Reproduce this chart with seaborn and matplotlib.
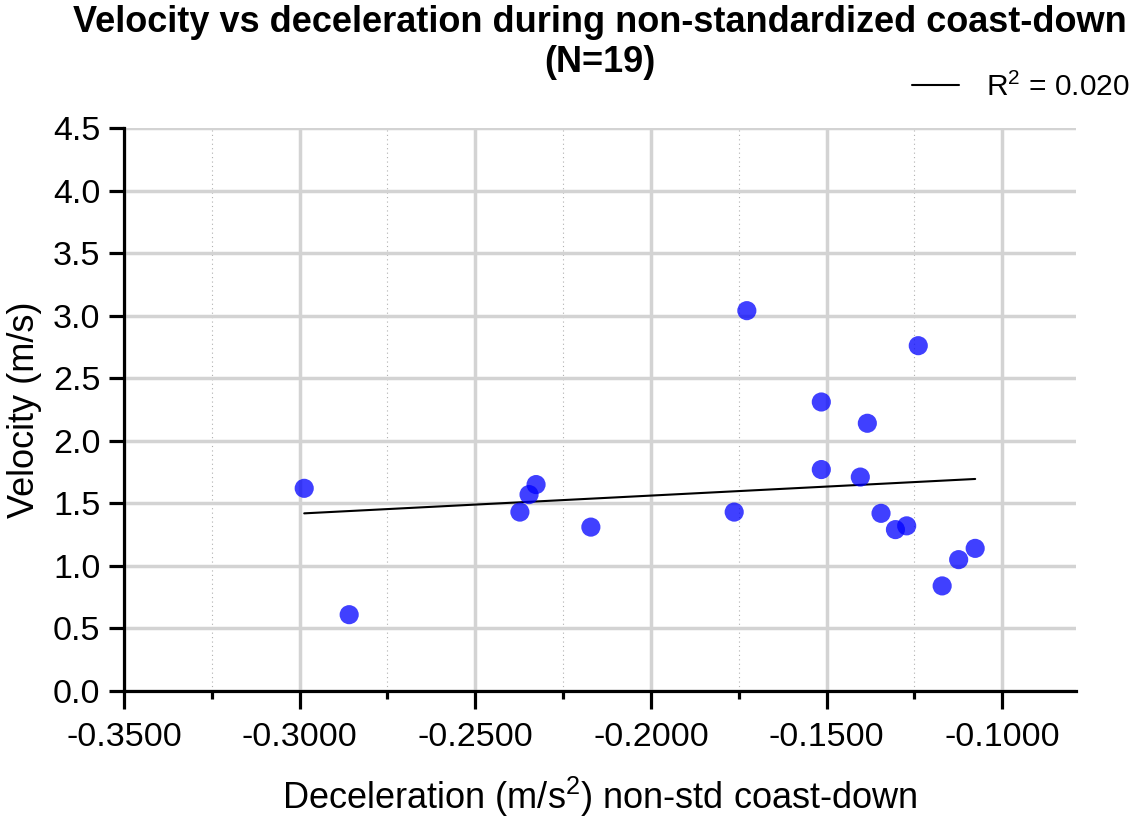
import numpy as np
import pandas as pd
import matplotlib
matplotlib.use("Agg")
import matplotlib.pyplot as plt
import seaborn as sns
from matplotlib.ticker import MultipleLocator, FormatStrFormatter
from matplotlib.lines import Line2D

deceleration = [-0.2987, -0.2859, -0.2373, -0.2347, -0.2327, -0.2171, -0.1763, -0.1727,
                -0.1515, -0.1515, -0.1404, -0.1384, -0.1345, -0.1304, -0.1272, -0.1239,
                -0.1171, -0.1124, -0.1077]
velocity = [1.62, 0.61, 1.43, 1.57, 1.65, 1.31, 1.43, 3.04,
            2.31, 1.77, 1.71, 2.14, 1.42, 1.29, 1.32, 2.76,
            0.84, 1.05, 1.14]
x_ticks = [-0.35, -0.30, -0.25, -0.20, -0.15, -0.10]
y_ticks = [0.0, 0.5, 1.0, 1.5, 2.0, 2.5, 3.0, 3.5, 4.0, 4.5]

df = pd.DataFrame({"dec": deceleration, "vel": velocity})

sns.set_theme(style="white")
plt.rcParams["font.family"] = ["Liberation Sans", "DejaVu Sans"]
plt.rcParams["mathtext.fontset"] = "custom"
plt.rcParams["mathtext.rm"] = "Liberation Sans"
plt.rcParams["mathtext.it"] = "Liberation Sans:italic"
plt.rcParams["text.color"] = "black"

fig = plt.figure(figsize=(11.34, 8.19), dpi=100)
ax = fig.add_axes([124/1134, 1-691/819, (1076-124)/1134, (691-128)/819])

r = np.corrcoef(df["dec"], df["vel"])[0, 1]
r2 = r**2

sns.regplot(data=df, x="dec", y="vel", ax=ax, scatter=False, ci=None,
            line_kws=dict(color="black", lw=1.5, zorder=3))
sns.scatterplot(data=df, x="dec", y="vel", ax=ax, s=190, color="#0000ff",
                alpha=0.75, edgecolor="none", zorder=4)

ax.set_xlim(-0.35, -0.079)
ax.set_ylim(0, 4.5)
ax.set_xticks(x_ticks)
ax.set_yticks(y_ticks)
ax.xaxis.set_major_formatter(FormatStrFormatter("%.4f"))
ax.yaxis.set_major_formatter(FormatStrFormatter("%.1f"))
ax.xaxis.set_minor_locator(MultipleLocator(0.025))

ax.set_axisbelow(True)
ax.grid(which="major", color="#d3d3d3", lw=2.5)
ax.grid(which="minor", axis="x", color="#b0b0b0", lw=0.8, ls=(0, (1, 3)))

for s in ["top", "right"]:
    ax.spines[s].set_visible(False)
for s in ["left", "bottom"]:
    ax.spines[s].set_color("black")
    ax.spines[s].set_linewidth(2.3)

ax.tick_params(axis="y", which="major", direction="out", length=11, width=2.3,
               labelsize=24.5, color="black", labelcolor="black", pad=6, left=True)
ax.tick_params(axis="x", which="major", direction="out", length=13, width=2.3,
               labelsize=24.5, color="black", labelcolor="black", pad=9, bottom=True)
ax.tick_params(axis="x", which="minor", direction="out", length=6, width=2.3,
               color="black", bottom=True)

ax.set_xlabel("Deceleration (m/s$^2$) non-std coast-down", fontsize=26, labelpad=16, color="black")
ax.set_ylabel("Velocity (m/s)", fontsize=26, labelpad=8, color="black")

fig.text(600/1134, 1-23/819, "Velocity vs deceleration during non-standardized coast-down",
         ha="center", va="center", fontsize=26, fontweight="bold", color="black")
fig.text(600/1134, 1-62/819, "(N=19)",
         ha="center", va="center", fontsize=26, fontweight="bold", color="black")

handle = Line2D([], [], color="black", lw=1.5)
fig.legend([handle], [f"R$^2$ = {r2:.3f}"], loc="center right",
           bbox_to_anchor=(1.0 + 8/1134, 1-87/819), frameon=False, fontsize=21.5,
           handlelength=1.6, handletextpad=0.9, borderaxespad=0.0)

fig.savefig("out.png", dpi=100)
